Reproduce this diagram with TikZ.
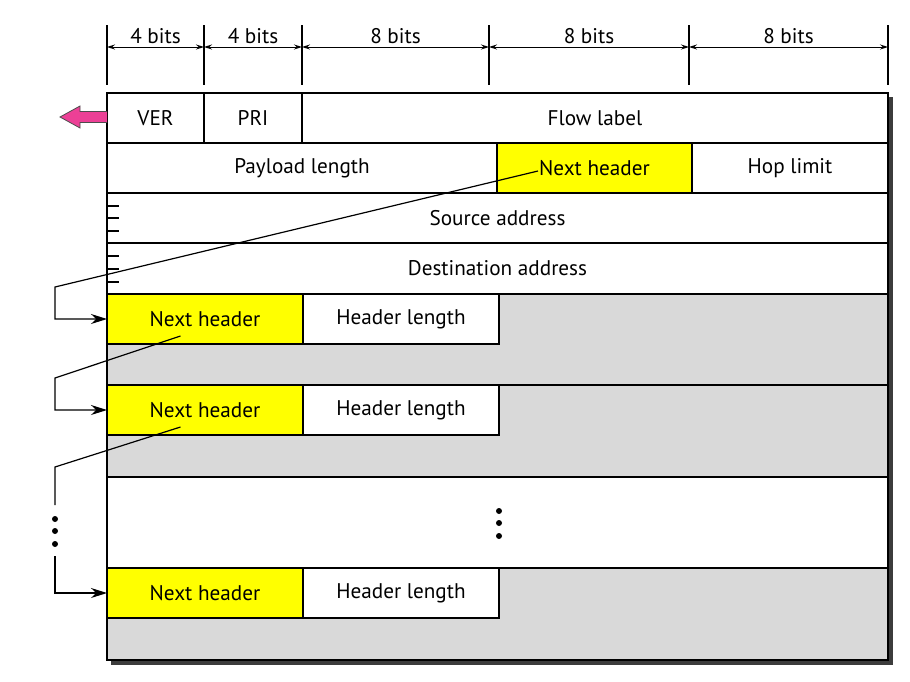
\documentclass[tikz,border=0pt]{standalone}
\usepackage{fontspec}
\setmainfont{PT Sans}
\usepackage{tikz}
\usetikzlibrary{positioning,arrows.meta}
\definecolor{hdryellow}{RGB}{255,255,0}
\definecolor{extgray}{RGB}{217,217,217}
\definecolor{shadowgray}{RGB}{60,60,60}
\definecolor{arrowpink}{RGB}{236,64,150}

\begin{document}
\begin{tikzpicture}[%
    x=0.5pt,
    y=-0.5pt,
    font=\fontsize{10.6}{12}\selectfont,
    node distance=0pt,
    cell/.style={%
      draw,
      line width=0.6pt,
      fill=white,
      minimum height=25pt,
      inner sep=0pt,
      outer sep=0pt,
      anchor=north west
    },
    nexthdr/.style={cell, fill=hdryellow},
    extblock/.style={cell, fill=extgray, minimum width=390.5pt, minimum height=45.5pt},
    tick/.style={line width=0.6pt},
    dim/.style={{Stealth[length=4pt,width=2.5pt]}-{Stealth[length=4pt,width=2.5pt]}, line width=0.5pt},
    link/.style={-{Stealth[length=8pt,width=5pt]}, line width=0.6pt}
  ]
  \useasboundingbox (0,0) rectangle (910,681);

  % shadow of the frame
  \fill[shadowgray] (111,97) rectangle (893,665);

  % bit widths
  \foreach \x [count=\i] in {107,204,302,489,689,888} {
    \draw[tick] (\x,25) -- (\x,85);
    \coordinate (b\i) at (\x,47);
  }
  \draw[dim] (b1) -- node[above, inner sep=1.5pt] {4 bits} (b2);
  \draw[dim] (b2) -- node[above, inner sep=1.5pt] {4 bits} (b3);
  \draw[dim] (b3) -- node[above, inner sep=1.5pt] {8 bits} (b4);
  \draw[dim] (b4) -- node[above, inner sep=1.5pt] {8 bits} (b5);
  \draw[dim] (b5) -- node[above, inner sep=1.5pt] {8 bits} (b6);

  % base header
  \node[cell, minimum width=48.5pt] (ver) at (107,93) {VER};
  \node[cell, minimum width=49pt, right=of ver] (pri) {PRI};
  \node[cell, minimum width=293pt, right=of pri] (flow) {Flow label};
  \node[cell, minimum width=195pt, below right=of ver.south west] (pay) {Payload length};
  \node[nexthdr, minimum width=97.5pt, right=of pay] (nh0) {Next header};
  \node[cell, minimum width=98pt, right=of nh0] (hop) {Hop limit};
  \node[cell, minimum width=390.5pt, below right=of pay.south west] (src) {Source address};
  \node[cell, minimum width=390.5pt, minimum height=25.5pt, below right=of src.south west] (dst) {Destination address};

  % extension headers
  \node[extblock, below right=of dst.south west] (blk1) {};
  \node[nexthdr, minimum width=98pt, at=(blk1.north west)] (x1nh) {Next header};
  \node[cell, minimum width=98pt, right=of x1nh] (x1hl) {Header length};
  \node[extblock, minimum height=46pt, below right=of blk1.south west] (blk2) {};
  \node[nexthdr, minimum width=98pt, at=(blk2.north west)] (x2nh) {Next header};
  \node[cell, minimum width=98pt, right=of x2nh] (x2hl) {Header length};
  \node[cell, minimum width=390.5pt, minimum height=45.5pt, below right=of blk2.south west] (blk3) {};
  \node[extblock, minimum height=46pt, below right=of blk3.south west] (blk4) {};
  \node[nexthdr, minimum width=98pt, at=(blk4.north west)] (x3nh) {Next header};
  \node[cell, minimum width=98pt, right=of x3nh] (x3hl) {Header length};

  \draw[line width=0.9pt] (ver.north west) rectangle (blk4.south east);

  % address marks
  \foreach \y in {206,218,231,256,269,282}
    \draw[tick] (107,\y) -- ++(12,0);

  % dots
  \foreach \y in {511,523,536}
    \fill (499,\y) circle (3);
  \foreach \y in {519,531,544}
    \fill (55,\y) circle (3);

  % chain of next headers
  \coordinate (k1) at (55,287);
  \coordinate (k2) at (55,378);
  \coordinate (k3) at (55,467);
  \coordinate (k3b) at (55,505);
  \coordinate (k4) at (55,556);
  \draw[link] ([shift={(-56.5,3)}]nh0.center) -- (k1) |- (x1nh.west);
  \draw[link] ([shift={(-24.5,17)}]x1nh.center) -- (k2) |- (x2nh.west);
  \draw[tick] ([shift={(-24.5,17)}]x2nh.center) -- (k3) -- (k3b);
  \draw[link] (k4) |- (x3nh.west);

  % pink arrow
  \draw[fill=arrowpink, draw=black!70, line width=0.4pt]
    (107,111.5) -- (80,111.5) -- (80,106) -- (60,117) -- (80,128) -- (80,122.5) -- (107,122.5);
\end{tikzpicture}
\end{document}
